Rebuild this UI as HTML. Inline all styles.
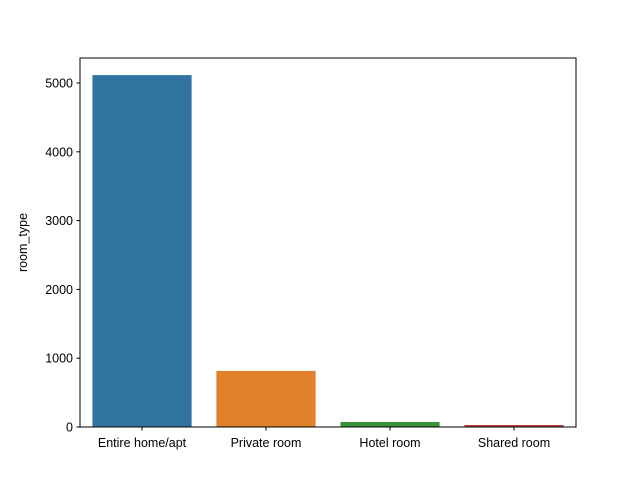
<!DOCTYPE html>
<html><head><meta charset="utf-8"><style>body{margin:0;background:#fff}</style></head>
<body>
<svg id="chart" width="640" height="480" xmlns="http://www.w3.org/2000/svg" font-family="Liberation Sans, DejaVu Sans, sans-serif" font-size="12.5"></svg>
<script>
const categories=["Entire home/apt","Private room","Hotel room","Shared room"];
const values=[5115,815,73,29];
const colors=["#3274a1","#e1812c","#3a923a","#c03d3e"];
const yTicks=[0,1000,2000,3000,4000,5000];
const svg=document.getElementById('chart');
const NS="http://www.w3.org/2000/svg";
const L=80,R=576,T=58,B=427;
const y=v=>B-v*(B-83)/5000;
const slot=(R-L)/categories.length;
const x=i=>L+slot*(i+0.5);
function mk(t,a,txt){const e=document.createElementNS(NS,t);for(const k in a)e.setAttribute(k,a[k]);if(txt!==undefined)e.textContent=txt;svg.appendChild(e);return e;}
values.forEach((v,i)=>{const r=mk('rect',{x:x(i)-slot*0.4,y:y(v),width:slot*0.8,height:B-y(v),fill:colors[i]});

});
yTicks.forEach(t=>{const l=mk('line',{x1:L-3.5,x2:L,y1:y(t),y2:y(t),stroke:'#000'});


const s=mk('text',{x:L-7,y:y(t)+4.5,'text-anchor':'end'},t);

});
categories.forEach((c,i)=>{const l=mk('line',{x1:x(i),x2:x(i),y1:B,y2:B+3.5,stroke:'#000'});


const s=mk('text',{x:x(i),y:B+20,'text-anchor':'middle'},c);

});
const f=mk('rect',{x:L,y:T,width:R-L,height:B-T,fill:'none',stroke:'#000','stroke-width':1});


const yt=mk('text',{x:27,y:(T+B)/2,'text-anchor':'middle',transform:`rotate(-90 27 ${(T+B)/2})`},'room_type');


</script>
</body></html>
